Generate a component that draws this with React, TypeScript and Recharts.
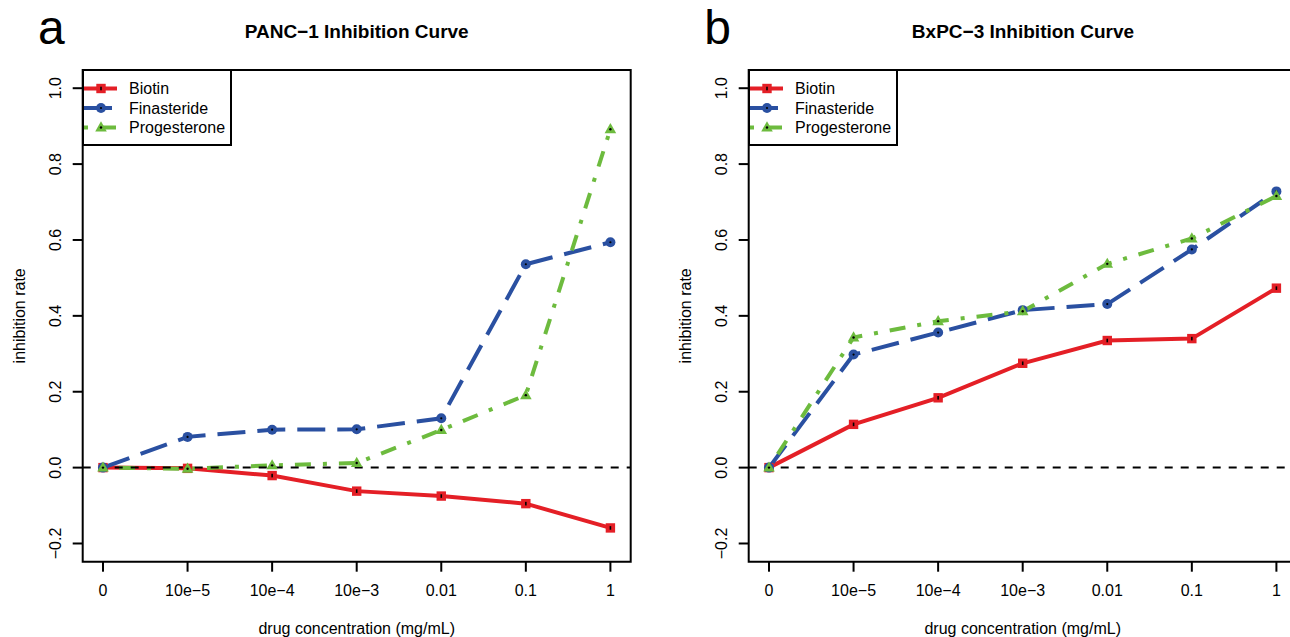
import { LineChart, Line, XAxis, YAxis, ReferenceLine, ReferenceArea, Legend } from 'recharts';

// ─── Data ─────────────────────────────────────────────────────────────────────

const CONCENTRATIONS = ['0', '10e−5', '10e−4', '10e−3', '0.01', '0.1', '1'];
const X_POSITIONS = [1, 2, 3, 4, 5, 6, 7];
const Y_TICKS = [-0.2, 0, 0.2, 0.4, 0.6, 0.8, 1.0];
const Y_TICK_LABELS = ['−0.2', '0.0', '0.2', '0.4', '0.6', '0.8', '1.0'];

const PANC1_BIOTIN = [0, -0.002, -0.021, -0.062, -0.075, -0.095, -0.159];
const PANC1_FINASTERIDE = [0, 0.081, 0.1, 0.101, 0.13, 0.536, 0.594];
const PANC1_PROGESTERONE = [0, -0.003, 0.006, 0.012, 0.099, 0.191, 0.892];

const BXPC3_BIOTIN = [0, 0.114, 0.184, 0.275, 0.335, 0.34, 0.473];
const BXPC3_FINASTERIDE = [0, 0.298, 0.356, 0.415, 0.431, 0.575, 0.728];
const BXPC3_PROGESTERONE = [0, 0.343, 0.386, 0.412, 0.537, 0.604, 0.716];

// ─── Styles ───────────────────────────────────────────────────────────────────

const RED = '#E41F26';
const BLUE = '#2A50A1';
const GREEN = '#6DBB3E';
const FONT = '"Liberation Sans", Arial, Helvetica, sans-serif';

// R pads each axis range by 4%
const X_DOMAIN: [number, number] = [0.76, 7.24];
const Y_DOMAIN: [number, number] = [-0.248, 1.048];

const CHART_W = 645;
const CHART_H = 637;
const PLOT_LEFT = 82.7;
const PLOT_TOP = 70;
const PLOT_RIGHT_PAD = 14.3;
const X_AXIS_H = 75.3;
const PANEL_B_LEFT = 666.3;

type Shape = 'square' | 'circle' | 'triangle';

const SERIES: Array<{ name: string; color: string; dash?: string; shape: Shape }> = [
  { name: 'Biotin', color: RED, shape: 'square' },
  { name: 'Finasteride', color: BLUE, dash: '28 12', shape: 'circle' },
  { name: 'Progesterone', color: GREEN, dash: '4 12 16 12', shape: 'triangle' },
];

// ─── Point markers ────────────────────────────────────────────────────────────

function Marker({ shape, cx, cy }: { shape: Shape; cx: number; cy: number }) {
  if (shape === 'square') {
    return (
      <g>
        <rect x={cx - 4.7} y={cy - 4.7} width={9.4} height={9.4} fill={RED} />
        <rect x={cx - 0.8} y={cy - 1.8} width={1.6} height={3.6} fill="#000" />
      </g>
    );
  }
  if (shape === 'circle') {
    return (
      <g>
        <circle cx={cx} cy={cy} r={5} fill={BLUE} />
        <circle cx={cx} cy={cy} r={1.1} fill="#000" />
      </g>
    );
  }
  return (
    <g>
      <polygon points={`${cx},${cy - 6.2} ${cx - 5.8},${cy + 4} ${cx + 5.8},${cy + 4}`} fill={GREEN} />
      <circle cx={cx} cy={cy} r={1.2} fill="#000" />
    </g>
  );
}

// ─── Legend box ───────────────────────────────────────────────────────────────

function LegendBox() {
  return (
    <svg width={150} height={77} style={{ display: 'block' }}>
      <rect x={1} y={1} width={148} height={75} fill="#fff" stroke="#000" strokeWidth={2} />
      {SERIES.map((s, i) => {
        const y = 19.5 + i * 19.5;
        return (
          <g key={s.name}>
            <line x1={2} x2={35} y1={y} y2={y} stroke={s.color} strokeWidth={4} strokeDasharray={s.dash} />
            <Marker shape={s.shape} cx={19} cy={y} />
            <text x={47} y={y} dominantBaseline="central" fontSize={16} fill="#000">
              {s.name}
            </text>
          </g>
        );
      })}
    </svg>
  );
}

// ─── Axis ticks ───────────────────────────────────────────────────────────────

function YTick({ x, y, index }: { x?: number; y?: number; index?: number }) {
  return (
    <text
      x={x}
      y={y}
      transform={`rotate(-90 ${x} ${y})`}
      textAnchor="middle"
      fontSize={16}
      fill="#000"
    >
      {Y_TICK_LABELS[index ?? 0]}
    </text>
  );
}

function XTick({ x, y, payload }: { x?: number; y?: number; payload?: { value: number } }) {
  return (
    <text x={x} y={y} dy="0.71em" textAnchor="middle" fontSize={16} fill="#000">
      {CONCENTRATIONS[(payload?.value ?? 1) - 1]}
    </text>
  );
}

// ─── Panel ────────────────────────────────────────────────────────────────────

function Panel({
  letter,
  title,
  biotin,
  finasteride,
  progesterone,
  left,
}: {
  letter: string;
  title: string;
  biotin: number[];
  finasteride: number[];
  progesterone: number[];
  left: number;
}) {
  const data = X_POSITIONS.map((x, i) => ({
    x,
    Biotin: biotin[i],
    Finasteride: finasteride[i],
    Progesterone: progesterone[i],
  }));
  const plotW = CHART_W - PLOT_LEFT - PLOT_RIGHT_PAD;

  return (
    <div style={{ position: 'absolute', left, top: 0, width: CHART_W, height: CHART_H }}>
      <div
        style={{
          position: 'absolute',
          left: 38,
          top: 4,
          fontSize: 48,
          lineHeight: '48px',
          color: '#000',
        }}
      >
        {letter}
      </div>
      <div
        style={{
          position: 'absolute',
          left: PLOT_LEFT,
          width: plotW,
          top: 21,
          fontSize: 19,
          lineHeight: '22px',
          fontWeight: 'bold',
          textAlign: 'center',
          color: '#000',
        }}
      >
        {title}
      </div>

      <LineChart
        width={CHART_W}
        height={CHART_H}
        data={data}
        margin={{ top: PLOT_TOP, right: PLOT_RIGHT_PAD, bottom: 0, left: 0 }}
      >
        <XAxis
          dataKey="x"
          type="number"
          domain={X_DOMAIN}
          ticks={X_POSITIONS}
          interval={0}
          height={X_AXIS_H}
          axisLine={false}
          tickLine={{ stroke: '#000', strokeWidth: 2 }}
          tickSize={10}
          tickMargin={13.3}
          tick={<XTick />}
          label={{
            value: 'drug concentration (mg/mL)',
            position: 'insideBottom',
            offset: 3.5,
            fontSize: 16,
            fill: '#000',
          }}
        />
        <YAxis
          type="number"
          domain={Y_DOMAIN}
          ticks={Y_TICKS}
          interval={0}
          width={PLOT_LEFT}
          axisLine={false}
          tickLine={{ stroke: '#000', strokeWidth: 2 }}
          tickSize={10}
          tickMargin={11.3}
          tick={<YTick />}
          label={{
            value: 'inhibition rate',
            angle: -90,
            position: 'insideLeft',
            offset: 19,
            fontSize: 16,
            fill: '#000',
            style: { textAnchor: 'middle' },
          }}
        />

        {/* Plot frame */}
        <ReferenceArea
          x1={X_DOMAIN[0]}
          x2={X_DOMAIN[1]}
          y1={Y_DOMAIN[0]}
          y2={Y_DOMAIN[1]}
          fill="none"
          stroke="#000"
          strokeWidth={2}
          ifOverflow="visible"
        />

        {SERIES.map((s) => (
          <Line
            key={s.name}
            type="linear"
            dataKey={s.name}
            stroke={s.color}
            strokeWidth={4}
            strokeDasharray={s.dash}
            isAnimationActive={false}
            activeDot={false}
            dot={(p: { cx?: number; cy?: number; index?: number }) => (
              <g key={`${s.name}-${p.index}`}>
                <Marker shape={s.shape} cx={p.cx ?? 0} cy={p.cy ?? 0} />
              </g>
            )}
          />
        ))}

        <ReferenceLine y={0} stroke="#000" strokeWidth={2} strokeDasharray="8 8" />

        <Legend
          layout="vertical"
          align="center"
          verticalAlign="middle"
          content={() => <LegendBox />}
          wrapperStyle={{ left: PLOT_LEFT - 1, top: PLOT_TOP - 1, width: 150, height: 77 }}
        />
      </LineChart>
    </div>
  );
}

export default function App() {
  return (
    <div
      style={{
        position: 'absolute',
        left: 0,
        top: 0,
        width: 1290,
        height: 637,
        overflow: 'hidden',
        background: '#fff',
        fontFamily: FONT,
      }}
    >
      <Panel
        letter="a"
        title="PANC−1 Inhibition Curve"
        biotin={PANC1_BIOTIN}
        finasteride={PANC1_FINASTERIDE}
        progesterone={PANC1_PROGESTERONE}
        left={0}
      />
      <Panel
        letter="b"
        title="BxPC−3 Inhibition Curve"
        biotin={BXPC3_BIOTIN}
        finasteride={BXPC3_FINASTERIDE}
        progesterone={BXPC3_PROGESTERONE}
        left={PANEL_B_LEFT}
      />
    </div>
  );
}
